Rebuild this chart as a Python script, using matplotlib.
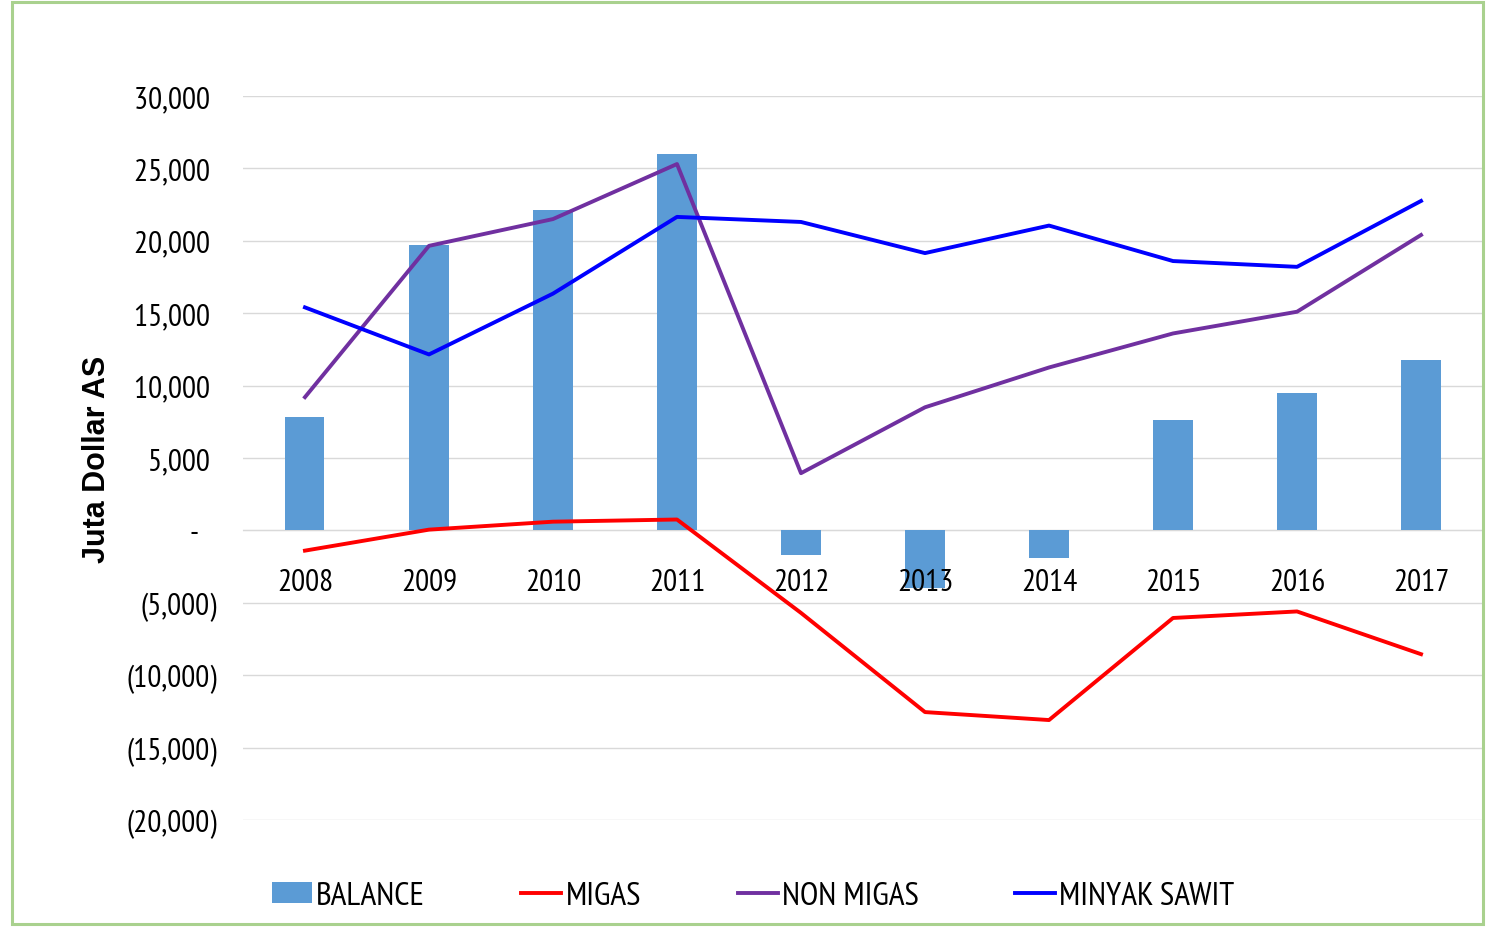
import numpy as np
import matplotlib as mpl
mpl.use('Agg')
import matplotlib.pyplot as plt
from matplotlib.patches import Rectangle

mpl.rcParams['font.family'] = ['PT Sans Narrow', 'DejaVu Sans']

years = ['2008', '2009', '2010', '2011', '2012', '2013', '2014', '2015', '2016', '2017']
balance = [7800, 19700, 22100, 26000, -1700, -4000, -1900, 7600, 9500, 11800]
migas = [-1400, 50, 600, 750, -5700, -12550, -13100, -6050, -5600, -8550]
non_migas = [9200, 19650, 21500, 25300, 3950, 8500, 11250, 13600, 15100, 20400]
minyak_sawit = [15400, 12150, 16350, 21650, 21300, 19150, 21050, 18600, 18200, 22750]

yticks = [-20000, -15000, -10000, -5000, 0, 5000, 10000, 15000, 20000, 25000, 30000]


def fmt(v):
    # accounting style labels like Excel
    if v == 0:
        return '-   '
    if v < 0:
        return '({:,})'.format(-v)
    return '{:,} '.format(v)


fig = plt.figure(figsize=(14.86, 9.29), dpi=100)
ax = fig.add_axes([0.1635, 0.1163, 0.8345, 0.7793])

x = np.arange(len(years))
b = ax.bar(x, balance, width=0.315, color='#5B9BD5', label='BALANCE', zorder=2)
l1, = ax.plot(x, migas, color='#FF0000', lw=2.8, label='MIGAS', zorder=3)
l2, = ax.plot(x, non_migas, color='#7030A0', lw=2.8, label='NON MIGAS', zorder=3)
l3, = ax.plot(x, minyak_sawit, color='#0000FF', lw=2.8, label='MINYAK SAWIT', zorder=3)

ax.set_xlim(-0.5, len(years) - 0.5)
ax.set_ylim(-20000, 30000)
ax.set_yticks(yticks)
ax.set_yticklabels([fmt(v) for v in yticks])
ax.yaxis.grid(True, color='#d9d9d9', lw=1)
ax.set_axisbelow(True)

ax.set_xticks(x)
ax.set_xticklabels(years)
ax.xaxis.set_zorder(5)  # year labels sit on top of the bars
for s in ['top', 'right', 'left']:
    ax.spines[s].set_visible(False)
ax.spines['bottom'].set_position(('data', 0))
ax.spines['bottom'].set_color('#d9d9d9')
ax.spines['bottom'].set_zorder(1)
ax.tick_params(axis='x', length=0, pad=27, labelsize=22.5)
ax.tick_params(axis='y', length=0, pad=19, labelsize=22.5)

ax.set_ylabel('Juta Dollar AS', family='Liberation Sans', fontweight='bold',
              fontsize=22, labelpad=10)

fig.legend([b, l1, l2, l3], ['BALANCE', 'MIGAS', 'NON MIGAS', 'MINYAK SAWIT'],
           loc='center left', bbox_to_anchor=(0.183, 0.034), ncol=4,
           frameon=False, fontsize=24, handlelength=1.2, handleheight=0.6,
           handletextpad=0.12, columnspacing=2.9, borderpad=0, borderaxespad=0)

fig.patches.append(Rectangle((0.008, 0.004), 0.99, 0.993, transform=fig.transFigure,
                             fill=False, edgecolor='#A9D18E', lw=2.2))

plt.savefig('out.png', dpi=100)
